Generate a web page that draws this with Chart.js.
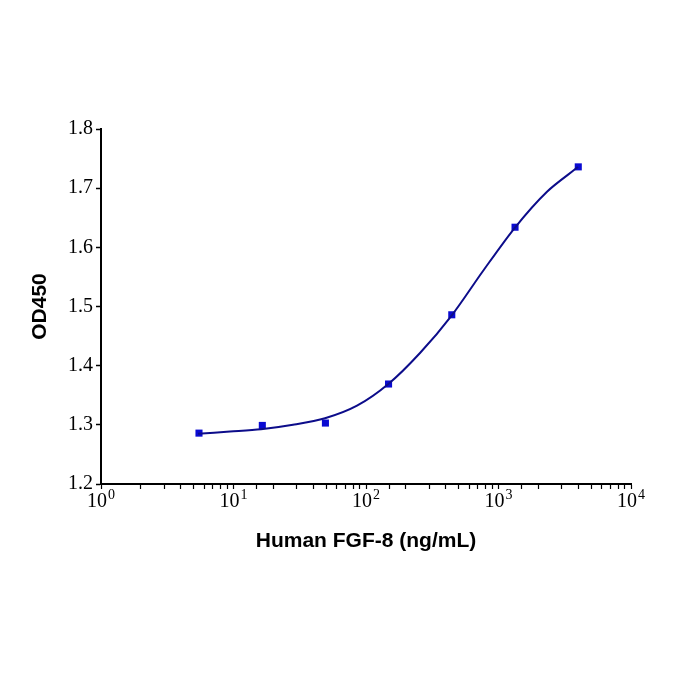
<!DOCTYPE html>
<html>
<head>
<meta charset="utf-8">
<script src="https://cdn.jsdelivr.net/npm/chart.js@4/dist/chart.umd.min.js"></script>
<style>
  html, body { margin: 0; padding: 0; background: #fff; }
  #wrap { width: 700px; height: 700px; }
</style>
</head>
<body>
<div id="wrap"><canvas id="od-chart" width="700" height="700"></canvas></div>
<script>
// measured points (ng/mL vs OD450)
const doseValues = [5.49, 16.5, 49.4, 148, 444, 1333, 4000];
const odValues = [1.286, 1.299, 1.303, 1.369, 1.486, 1.634, 1.736];

// fitted curve
const fitDose = [5.4, 9.41, 16.13, 28.12, 49.05, 85.54, 146.6, 255.6, 445.8, 763.8, 1332, 2323, 3981];
const fitOD = [1.285, 1.2886, 1.2924, 1.3, 1.311, 1.3323, 1.3685, 1.4214, 1.4856, 1.56, 1.6335, 1.694, 1.7357];

const xTickPowers = [1, 10, 100, 1000, 10000];
const yTicks = [1.2, 1.3, 1.4, 1.5, 1.6, 1.7, 1.8];

const pointData = doseValues.map((d, i) => ({ x: d, y: odValues[i] }));
const fitData = fitDose.map((d, i) => ({ x: d, y: fitOD[i] }));

// draws 10^n labels under the log axis
const powerLabels = {
  id: "powerLabels",
  afterDraw(chart) {
    const ctx = chart.ctx;
    const xs = chart.scales.x;
    ctx.save();
    ctx.fillStyle = "#000";
    ctx.textBaseline = "alphabetic";
    xTickPowers.forEach((v) => {
      const px = xs.getPixelForValue(v);
      const exp = String(Math.round(Math.log10(v)));
      ctx.font = "20px 'Liberation Serif'";
      const wBase = ctx.measureText("10").width;
      ctx.font = "14px 'Liberation Serif'";
      const wExp = ctx.measureText(exp).width;
      const start = px - (wBase + wExp + 1) / 2;
      const base = chart.chartArea.bottom + 23;
      ctx.font = "20px 'Liberation Serif'";
      ctx.textAlign = "left";
      ctx.fillText("10", start, base);
      ctx.font = "14px 'Liberation Serif'";
      ctx.fillText(exp, start + wBase + 1, base - 8);
    });
    ctx.restore();
  },
};

new Chart(document.getElementById("od-chart"), {
  type: "scatter",
  data: {
    datasets: [
      {
        label: "fit",
        type: "line",
        data: fitData,
        borderColor: "#0c0c8a",
        borderWidth: 2,
        pointRadius: 0,
        fill: false,
        tension: 0.3,
      },
      {
        label: "OD450",
        data: pointData,
        pointStyle: "rect",
        pointRadius: 5,
        backgroundColor: "#0a0ad2",
        borderColor: "#0a0ad2",
        borderWidth: 0,
      },
    ],
  },
  options: {
    responsive: false,
    animation: false,
    layout: { padding: { top: 129, right: 69, left: 24, bottom: 146 } },
    plugins: {
      legend: { display: false },
      tooltip: { enabled: false },
    },
    scales: {
      x: {
        type: "logarithmic",
        min: 1,
        max: 10000,
        afterFit: (scale) => { scale.height = 70; },
        border: { color: "#000", width: 2 },
        grid: {
          drawOnChartArea: false,
          drawTicks: true,
          tickLength: 5,
          tickColor: "#000",
          tickWidth: 1.2,
        },
        ticks: {
          autoSkip: false,
          maxRotation: 0,
          callback: () => "",
        },
        title: {
          display: true,
          text: "Human FGF-8 (ng/mL)",
          color: "#000",
          font: { family: "'Liberation Sans'", size: 21, weight: "bold" },
          padding: { top: 0, bottom: 0 },
        },
      },
      y: {
        min: 1.2,
        max: 1.8,
        afterFit: (scale) => { scale.width = 77; },
        afterBuildTicks: (scale) => {
          scale.ticks = yTicks.map((v) => ({ value: v }));
        },
        border: { color: "#000", width: 2 },
        grid: {
          drawOnChartArea: false,
          tickLength: 5,
          tickColor: "#000",
          tickWidth: 1.5,
        },
        ticks: {
          color: "#000",
          padding: 3,
          font: { family: "'Liberation Serif'", size: 20 },
          callback: (v) => Number(v).toFixed(1),
        },
        title: {
          display: true,
          text: "OD450",
          color: "#000",
          font: { family: "'Liberation Sans'", size: 21, weight: "bold" },
          padding: { top: 4, bottom: 0 },
        },
      },
    },
  },
  plugins: [powerLabels],
});
</script>
</body>
</html>
